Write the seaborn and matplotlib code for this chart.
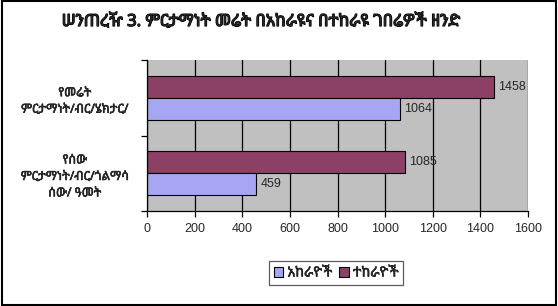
import matplotlib
matplotlib.use('Agg')
import matplotlib.pyplot as plt
import matplotlib.patheffects as pe
import seaborn as sns
import pandas as pd
from matplotlib.patches import Rectangle

# Data
categories = ['የመሬት\nምርታማነት/ብር/ሄክታር/', 'የሰው\nምርታማነት/ብር/ጎልማሳ\nሰው/ ዓመት']
series = ['አከራዮች', 'ተከራዮች']
akerayoch = [1064, 459]
tekerayoch = [1458, 1085]
xticks = [0, 200, 400, 600, 800, 1000, 1200, 1400, 1600]
title = 'ሠንጠረዥ 3. ምርታማነት መሬት በአከራዩና በተከራዩ ገበሬዎች ዘንድ'

colors = {'አከራዮች': '#9999FF', 'ተከራዮች': '#993366'}
eth = ['Noto Sans Ethiopic', 'Liberation Sans', 'DejaVu Sans']
# the Ethiopic font is a variable font, so fake a heavier weight with a stroke
heavy = [pe.withStroke(linewidth=0.9, foreground='black')]
medium = [pe.withStroke(linewidth=0.35, foreground='black')]

df = pd.DataFrame({
    'category': categories * 2,
    'group': [series[0]] * 2 + [series[1]] * 2,
    'value': akerayoch + tekerayoch,
})

sns.set_style('white')
plt.rcParams['font.family'] = ['Liberation Sans', 'DejaVu Sans']

fig = plt.figure(figsize=(5.58, 3.06), dpi=100)
ax = fig.add_axes([147 / 558, 1 - 211 / 306, 381 / 558, 151 / 306])
ax.set_facecolor('#C0C0C0')

# tekerayoch drawn first so it sits on top within each group
sns.barplot(data=df, x='value', y='category', hue='group',
            order=categories, hue_order=series[::-1], palette=colors,
            width=0.58, edgecolor='black', linewidth=0.8, orient='h', ax=ax)

for cont in ax.containers:
    ax.bar_label(cont, padding=3, fontsize=9)

ax.set_xlim(0, 1600)
ax.set_xticks(xticks)
ax.set_ylim(1.5, -0.5)
ax.grid(axis='x', color='black', linewidth=0.9)
ax.grid(axis='y', visible=False)
ax.set_axisbelow(True)
ax.set_xlabel('')
ax.set_ylabel('')

for s in ['top', 'right']:
    ax.spines[s].set_visible(False)
for s in ['left', 'bottom']:
    ax.spines[s].set_color('black')
    ax.spines[s].set_linewidth(0.9)

ax.tick_params(axis='x', direction='out', length=4, width=0.9, color='black',
               labelsize=9, pad=5, bottom=True)
ax.set_yticks([-0.5, 0.5, 1.5], minor=True)
ax.tick_params(axis='y', which='minor', direction='out', length=4, width=0.9,
               color='black', left=True)
ax.tick_params(axis='y', which='major', length=0, pad=52)
ax.set_yticklabels(categories, ha='center', fontsize=9, family=eth,
                   linespacing=1.35)
for t in ax.get_yticklabels():
    t.set_path_effects(medium)

handles, labels = ax.get_legend_handles_labels()
ax.get_legend().remove()
leg = fig.legend(handles[::-1], labels[::-1], loc='center',
                 bbox_to_anchor=(336 / 558, 1 - 273 / 306), ncol=2,
                 frameon=True, fancybox=False, edgecolor='#333333',
                 handlelength=0.7, handleheight=0.7, handletextpad=0.3,
                 columnspacing=0.5, borderpad=0.35,
                 prop={'family': eth, 'size': 10})
leg.get_frame().set_linewidth(0.9)
for t in leg.get_texts():
    t.set_path_effects(medium)

fig.text(261 / 558, 1 - 22 / 306, title, ha='center', va='center',
         fontsize=12, fontweight='bold', family=eth, path_effects=heavy)

fig.patches.append(Rectangle((0.004, 0.004), 0.992, 0.992, transform=fig.transFigure,
                             fill=False, edgecolor='black', linewidth=1.5))

fig.savefig('out.png', dpi=100, facecolor='white')
